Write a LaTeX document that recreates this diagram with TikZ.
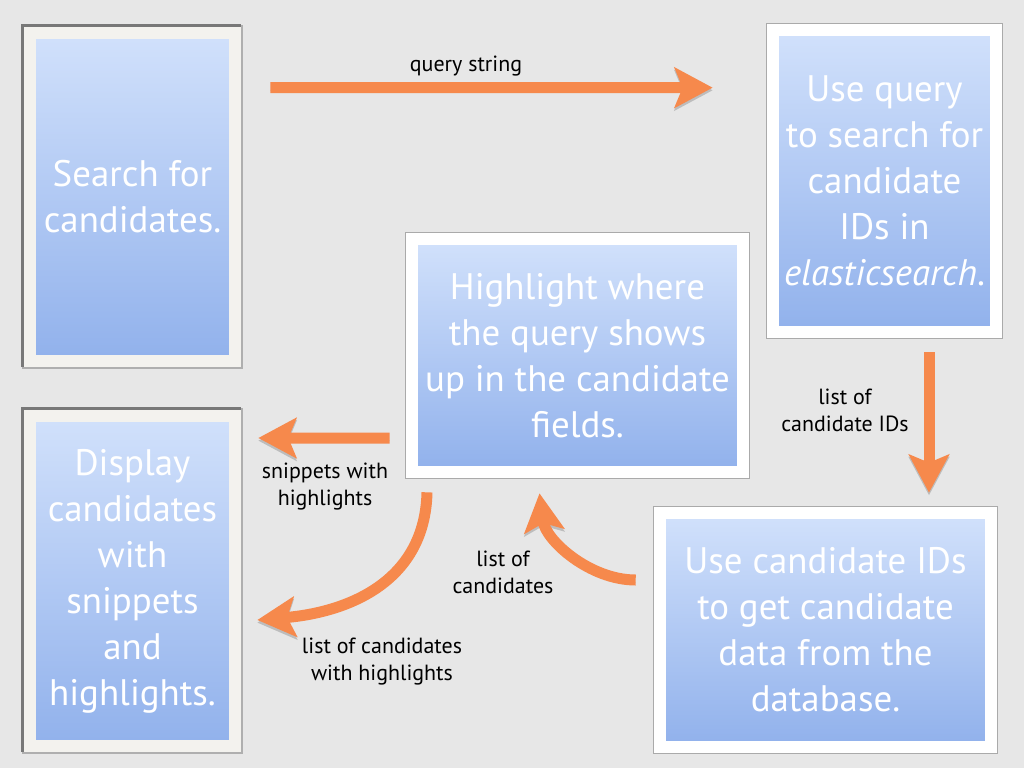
\documentclass[tikz,border=0pt]{standalone}
\usepackage{fontspec}
\setmainfont{PT Sans}
\usetikzlibrary{arrows.meta, calc}
\definecolor{bggrey}{RGB}{231,231,231}
\definecolor{boxtop}{RGB}{208,224,251}
\definecolor{boxbot}{RGB}{146,178,236}
\definecolor{framegrey}{RGB}{170,170,170}
\definecolor{framedark}{RGB}{120,120,120}
\definecolor{framelight}{RGB}{175,175,175}
\definecolor{frameoff}{RGB}{243,242,238}
\definecolor{myorange}{RGB}{246,137,76}
\tikzset{
  panel/.style={rectangle, inner sep=0pt, align=center, text=white,
    top color=boxtop, bottom color=boxbot,
    font=\fontsize{21}{26.2}\selectfont},
  whitepanel/.style={panel,
    preaction={draw=framegrey, line width=0.54cm},
    preaction={draw=white, line width=0.5cm}},
  greypanel/.style={panel,
    preaction={draw=framelight, line width=0.58cm},
    preaction={draw=framedark, line width=0.54cm,
      transform canvas={xshift=-0.85pt, yshift=0.85pt}},
    preaction={draw=frameoff, line width=0.5cm}},
  flow/.style={-{Stealth[length=0.76cm, width=0.8cm, inset=0.16cm]},
    line width=0.22cm, color=myorange,
    preaction={draw=black, opacity=0.18, transform canvas={yshift=-1.5pt}}},
  lbl/.style={align=center, font=\fontsize{12.5}{15.4}\selectfont, text=black}
}

\begin{document}
\begin{tikzpicture}[x=0.02cm, y=-0.02cm]
  % Background
  \fill[bggrey] (0,0) rectangle (1024,768);
  \useasboundingbox (0,0) rectangle (1024,768);

  % Steps
  \node[greypanel, minimum width=3.86cm, minimum height=6.32cm] (search) at (132.5,197) {Search for\\candidates.};
  \node[whitepanel, minimum width=4.22cm, minimum height=5.8cm] (esquery) at (884.5,181) {Use query\\to search for\\candidate\\IDs in\\\textit{elasticsearch}.};
  \node[whitepanel, minimum width=6.38cm, minimum height=4.42cm] (highlight) at (577.5,355.5) {Highlight where\\the query shows\\up in the candidate\\fields.};
  \node[greypanel, minimum width=3.86cm, minimum height=6.36cm] (display) at (132.5,581) {Display\\candidates\\with\\snippets\\and\\highlights.};
  \node[whitepanel, minimum width=6.38cm, minimum height=4.44cm] (dbfetch) at (825.5,630) {Use candidate IDs\\to get candidate\\data from the\\database.};

  % Connections
  \draw[flow] ($(search.north east)+(41,49)$) -- ($(esquery.north west)+(-66,52)$);
  \draw[flow] ($(esquery.south)+(44.5,26)$) -- ($(dbfetch.north)+(103.5,-26)$);
  \draw[flow] ($(dbfetch.west)+(-30,-50)$) .. controls +(-46,0) and +(6,47) .. ($(highlight.south)+(-38,27)$);
  \draw[flow] ($(highlight.west)+(-28,82.5)$) -- ($(display.east)+(29,-143)$);
  \draw[flow] ($(highlight.south)+(-150.5,26)$) .. controls +(-2,88) and +(93,-8) .. ($(display.east)+(28,39)$);

  % Labels
  \node[lbl] (qlbl) at (466,66) {query string};
  \node[lbl] (idlbl) at (845,410) {list of\\candidate IDs};
  \node[lbl] (candlbl) at (503,572) {list of\\candidates};
  \node[lbl] (sniplbl) at (325,487) {snippets with\\highlights};
  \node[lbl] (hllbl) at (382,662) {list of candidates\\with highlights};
\end{tikzpicture}
\end{document}
